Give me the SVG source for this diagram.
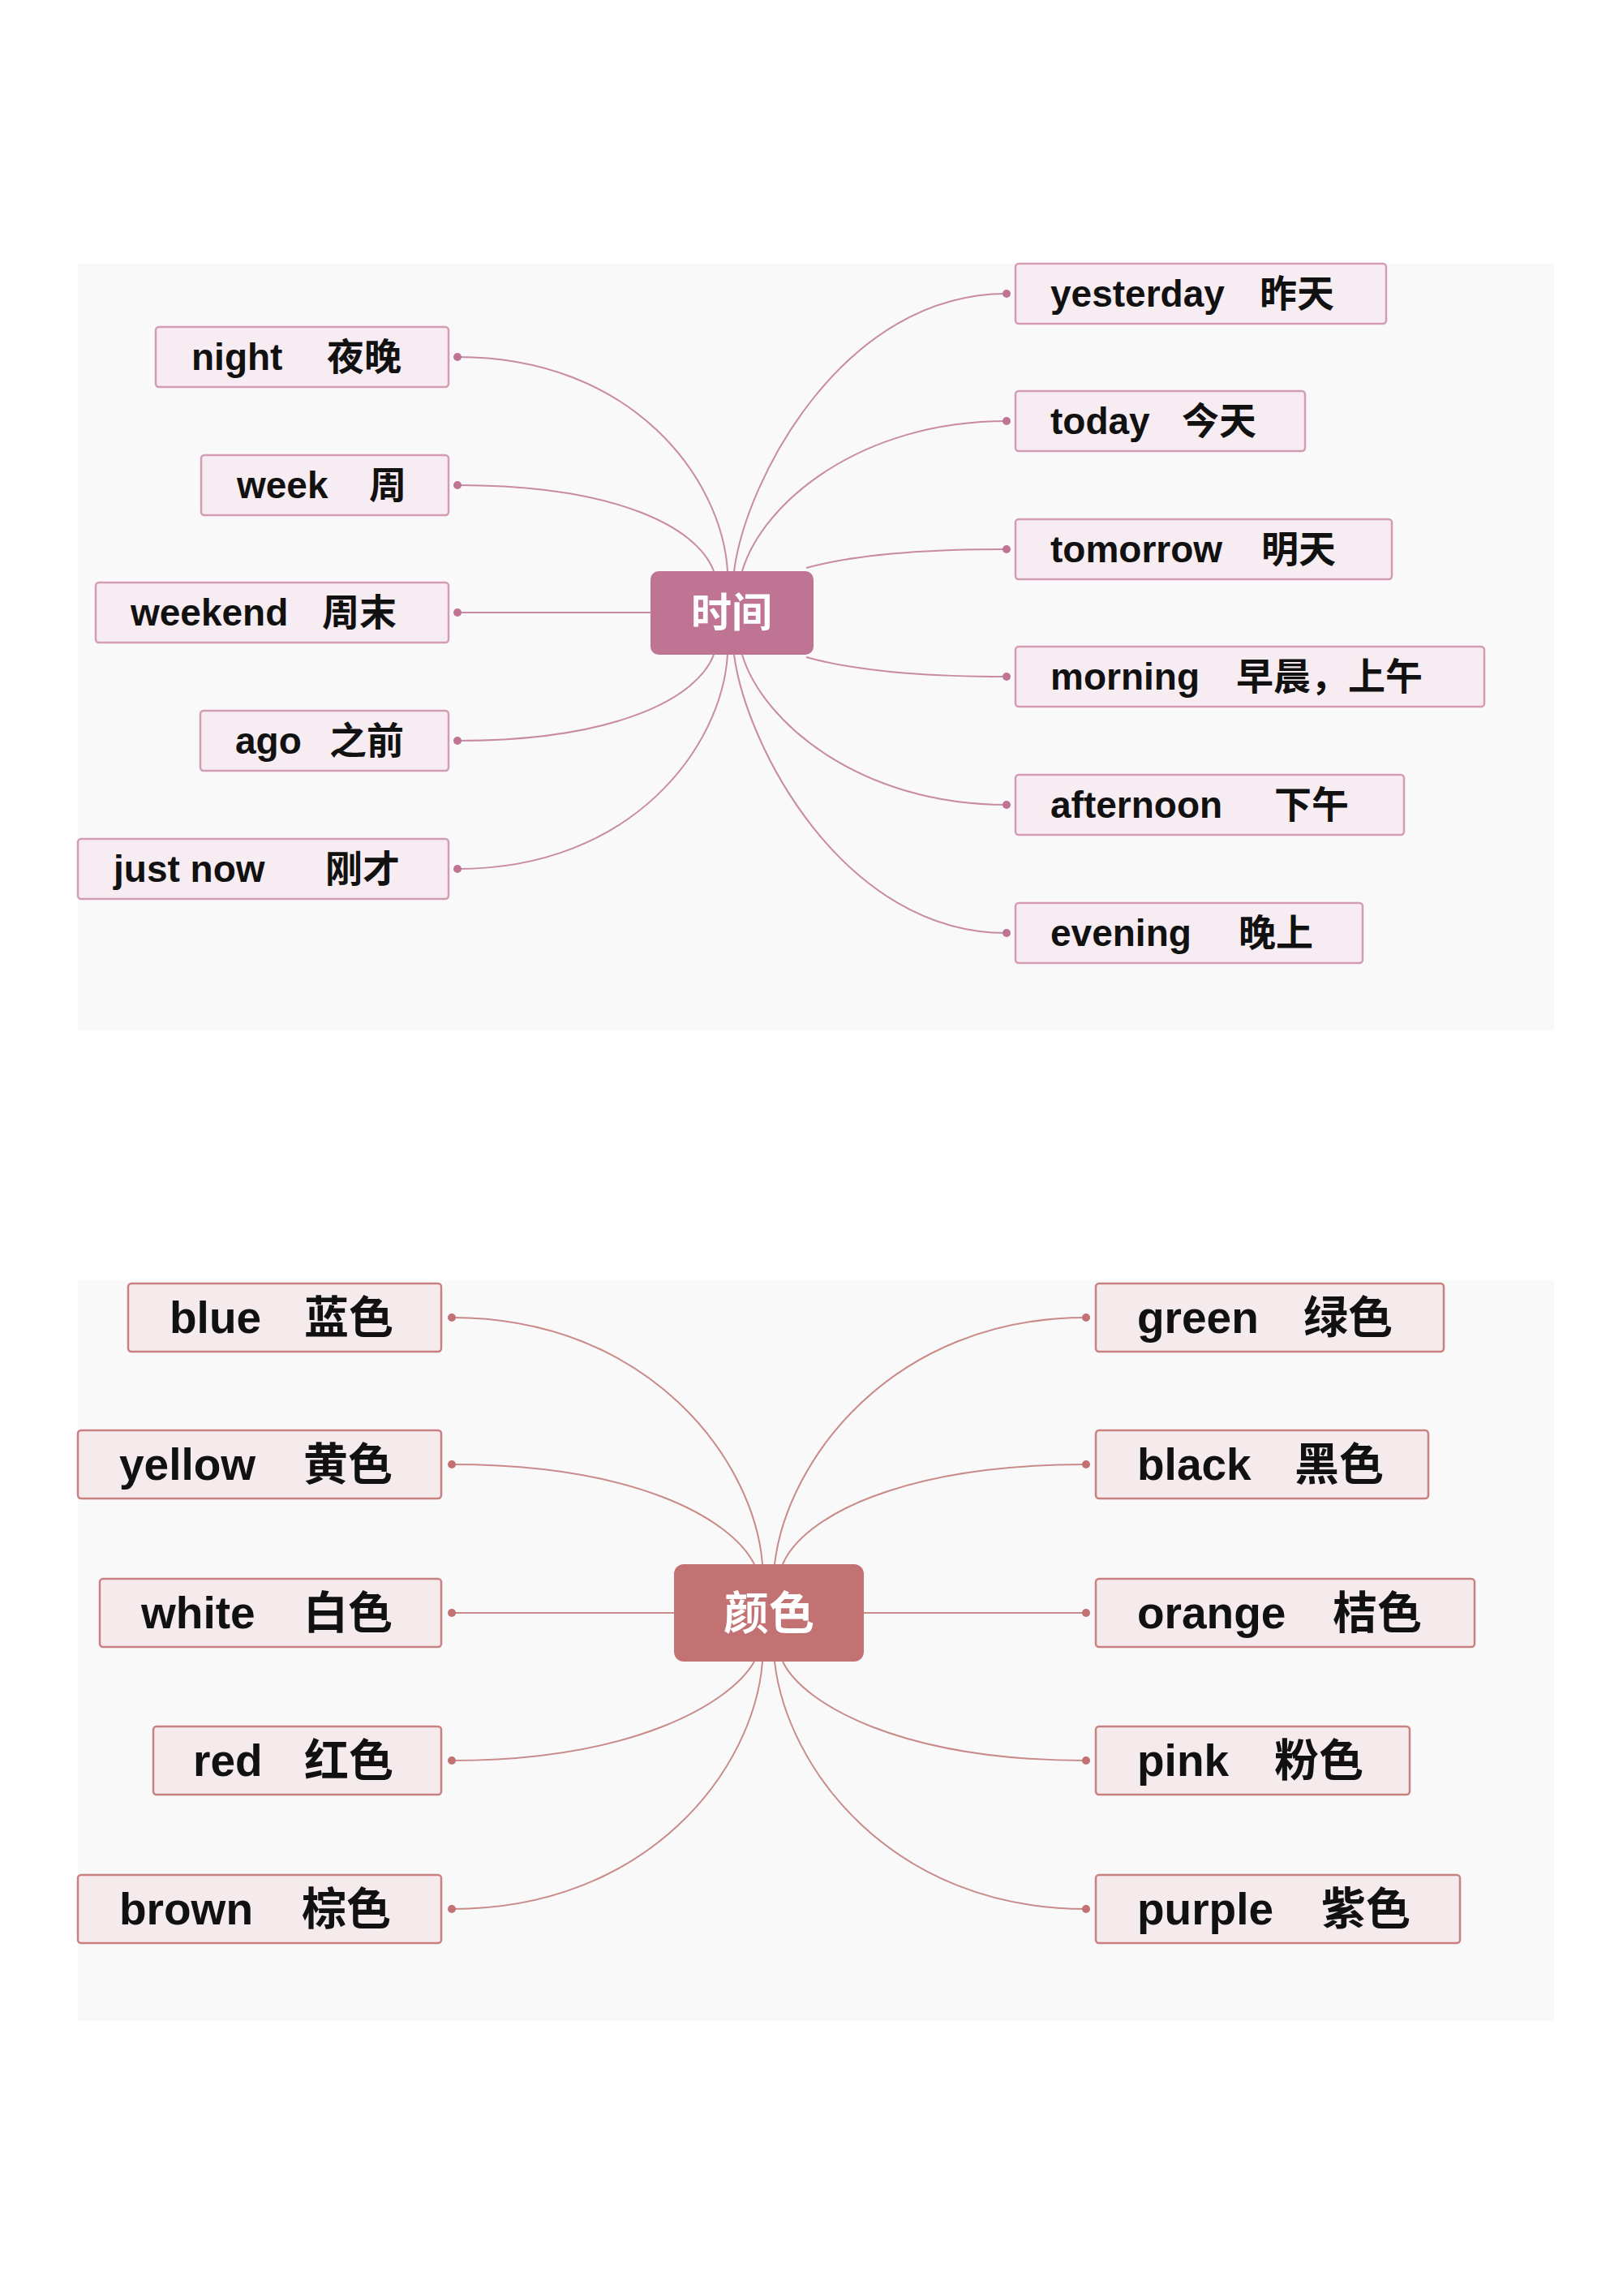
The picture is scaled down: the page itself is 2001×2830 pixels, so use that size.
<svg xmlns="http://www.w3.org/2000/svg" width="2001" height="2830" viewBox="0 0 2001 2830">
<style>
text{font-family:"Liberation Sans","Noto Sans CJK SC",sans-serif;font-weight:bold;fill:#111;dominant-baseline:central}
.t rect{fill:#f7ecf1;stroke:#d49bb5;stroke-width:2.5}
.c rect{fill:#f5ebec;stroke:#c98080;stroke-width:2.5}
.t text{font-size:46px}
.c text{font-size:55px}
.lt path{fill:none;stroke:#c98aa5;stroke-width:2}
.lc path{fill:none;stroke:#c98a8a;stroke-width:2}
.lt circle{fill:#c07494}
.lc circle{fill:#c27272}
</style>
<rect x="96" y="325" width="1820" height="945" fill="#f9f9f9"/>
<rect x="96" y="1578" width="1820" height="913" fill="#f9f9f9"/>
<g id="conn-time" class="lt">
<path d="M564 440 C780 440 890 590 897 704"/>
<path d="M564 598 C760 598 860 650 880 704"/>
<path d="M564 755 L802 755"/>
<path d="M564 913 C760 913 860 860 880 807"/>
<path d="M564 1071 C780 1071 890 920 897 807"/>
<path d="M1241 362 C1040 362 920 590 905 704"/>
<path d="M1241 519 C1060 519 940 620 915 704"/>
<path d="M1241 677 C1100 677 1030 690 994 700"/>
<path d="M1241 834 C1100 834 1030 820 994 810"/>
<path d="M1241 992 C1060 992 940 890 915 807"/>
<path d="M1241 1150 C1040 1150 920 920 905 807"/>
<circle cx="564" cy="440" r="5"/><circle cx="564" cy="598" r="5"/><circle cx="564" cy="755" r="5"/><circle cx="564" cy="913" r="5"/><circle cx="564" cy="1071" r="5"/>
<circle cx="1241" cy="362" r="5"/><circle cx="1241" cy="519" r="5"/><circle cx="1241" cy="677" r="5"/><circle cx="1241" cy="834" r="5"/><circle cx="1241" cy="992" r="5"/><circle cx="1241" cy="1150" r="5"/>
</g>
<g id="conn-color" class="lc">
<path d="M557 1624 C800 1624 930 1800 940 1928"/>
<path d="M557 1805 C780 1805 900 1870 930 1928"/>
<path d="M557 1988 L831 1988"/>
<path d="M557 2170 C780 2170 900 2100 930 2048"/>
<path d="M557 2353 C800 2353 930 2180 940 2048"/>
<path d="M1339 1624 C1100 1624 970 1800 955 1928"/>
<path d="M1339 1805 C1110 1805 990 1870 965 1928"/>
<path d="M1065 1988 L1339 1988"/>
<path d="M1339 2170 C1110 2170 990 2100 965 2048"/>
<path d="M1339 2353 C1100 2353 970 2180 955 2048"/>
<circle cx="557" cy="1624" r="5"/><circle cx="557" cy="1805" r="5"/><circle cx="557" cy="1988" r="5"/><circle cx="557" cy="2170" r="5"/><circle cx="557" cy="2353" r="5"/>
<circle cx="1339" cy="1624" r="5"/><circle cx="1339" cy="1805" r="5"/><circle cx="1339" cy="1988" r="5"/><circle cx="1339" cy="2170" r="5"/><circle cx="1339" cy="2353" r="5"/>
</g>
<g id="time"><rect x="802" y="704" width="201" height="103" rx="10" fill="#c07494"/><text x="902" y="756" text-anchor="middle" font-size="50" style="fill:#fff">时间</text></g>
<g id="night" class="t"><rect x="192" y="403" width="361" height="74" rx="4"/><text x="236" y="440">night</text><text x="403" y="440">夜晚</text></g>
<g id="week" class="t"><rect x="248" y="561" width="305" height="74" rx="4"/><text x="292" y="598">week</text><text x="455" y="598">周</text></g>
<g id="weekend" class="t"><rect x="118" y="718" width="435" height="74" rx="4"/><text x="161" y="755">weekend</text><text x="397" y="755">周末</text></g>
<g id="ago" class="t"><rect x="247" y="876" width="306" height="74" rx="4"/><text x="290" y="913">ago</text><text x="406" y="913">之前</text></g>
<g id="justnow" class="t"><rect x="96" y="1034" width="457" height="74" rx="4"/><text x="140" y="1071">just now</text><text x="401" y="1071">刚才</text></g>
<g id="yesterday" class="t"><rect x="1252" y="325" width="457" height="74" rx="4"/><text x="1295" y="362">yesterday</text><text x="1553" y="362">昨天</text></g>
<g id="today" class="t"><rect x="1252" y="482" width="357" height="74" rx="4"/><text x="1295" y="519">today</text><text x="1457" y="519">今天</text></g>
<g id="tomorrow" class="t"><rect x="1252" y="640" width="464" height="74" rx="4"/><text x="1295" y="677">tomorrow</text><text x="1555" y="677">明天</text></g>
<g id="morning" class="t"><rect x="1252" y="797" width="578" height="74" rx="4"/><text x="1295" y="834">morning</text><text x="1524" y="834">早晨，上午</text></g>
<g id="afternoon" class="t"><rect x="1252" y="955" width="479" height="74" rx="4"/><text x="1295" y="992">afternoon</text><text x="1571" y="992">下午</text></g>
<g id="evening" class="t"><rect x="1252" y="1113" width="428" height="74" rx="4"/><text x="1295" y="1150">evening</text><text x="1527" y="1150">晚上</text></g>
<g id="color"><rect x="831" y="1928" width="234" height="120" rx="12" fill="#c27272"/><text x="948" y="1988" text-anchor="middle" font-size="56" style="fill:#fff">颜色</text></g>
<g id="blue" class="c"><rect x="158" y="1582" width="386" height="84" rx="4"/><text x="209" y="1624">blue</text><text x="375" y="1624">蓝色</text></g>
<g id="yellow" class="c"><rect x="96" y="1763" width="448" height="84" rx="4"/><text x="147" y="1805">yellow</text><text x="374" y="1805">黄色</text></g>
<g id="white" class="c"><rect x="123" y="1946" width="421" height="84" rx="4"/><text x="174" y="1988">white</text><text x="374" y="1988">白色</text></g>
<g id="red" class="c"><rect x="189" y="2128" width="355" height="84" rx="4"/><text x="238" y="2170">red</text><text x="375" y="2170">红色</text></g>
<g id="brown" class="c"><rect x="96" y="2311" width="448" height="84" rx="4"/><text x="147" y="2353">brown</text><text x="372" y="2353">棕色</text></g>
<g id="green" class="c"><rect x="1351" y="1582" width="429" height="84" rx="4"/><text x="1402" y="1624">green</text><text x="1607" y="1624">绿色</text></g>
<g id="black" class="c"><rect x="1351" y="1763" width="410" height="84" rx="4"/><text x="1402" y="1805">black</text><text x="1596" y="1805">黑色</text></g>
<g id="orange" class="c"><rect x="1351" y="1946" width="467" height="84" rx="4"/><text x="1402" y="1988">orange</text><text x="1643" y="1988">桔色</text></g>
<g id="pink" class="c"><rect x="1351" y="2128" width="387" height="84" rx="4"/><text x="1402" y="2170">pink</text><text x="1571" y="2170">粉色</text></g>
<g id="purple" class="c"><rect x="1351" y="2311" width="449" height="84" rx="4"/><text x="1402" y="2353">purple</text><text x="1629" y="2353">紫色</text></g>
</svg>
